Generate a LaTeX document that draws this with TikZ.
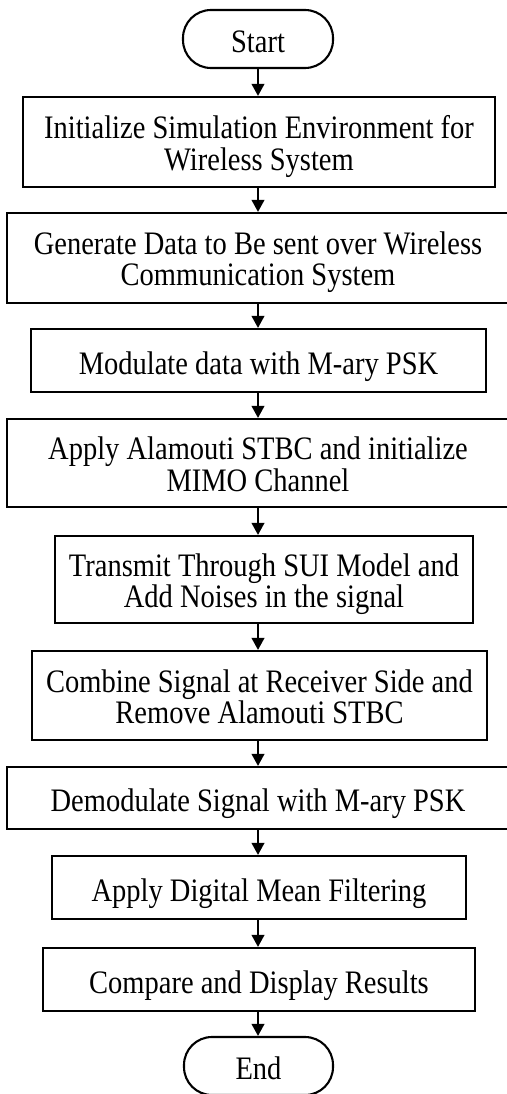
\documentclass[tikz,border=0pt]{standalone}
\usepackage{fontspec}
\usepackage{graphicx}
\setmainfont{Liberation Serif}
\usetikzlibrary{arrows.meta}
% Times-style lettering, drawn a little taller than wide; #1 lowers the first baseline
\newcommand\tallstack[2]{\raisebox{#1}[0pt][0pt]{\scalebox{1}[1.15]{\begin{tabular}[t]{@{}c@{}}#2\end{tabular}}}}
\newcommand\oneline[1]{\tallstack{-13.5pt}{#1}}
\newcommand\twolines[1]{\tallstack{3.4pt}{#1}}
\begin{document}
\begin{tikzpicture}[x=1pt,y=-1pt,
  font=\fontsize{28.5}{26.5}\selectfont,
  stepbox/.style={draw,line width=2.1pt,inner sep=0pt,align=center},
  termbox/.style={stepbox,rounded corners=28pt},
  flow/.style={line width=2.1pt,-{Triangle[length=12pt,width=12.5pt]}}]
\useasboundingbox (0,0) rectangle (506,1094);
\coordinate (axis) at (258,0);
\node[termbox,minimum width=150pt,minimum height=58pt] (start) at (258,39) {\oneline{Start}};
\node[stepbox,minimum width=472pt,minimum height=90pt] (b1) at (259,142) {\twolines{Initialize Simulation Environment for\\Wireless System}};
\node[stepbox,minimum width=502pt,minimum height=90pt] (b2) at (258,258) {\twolines{Generate Data to Be sent over Wireless\\Communication System}};
\node[stepbox,minimum width=455pt,minimum height=63pt] (b3) at (258.5,360.5) {\oneline{Modulate data with M-ary PSK}};
\node[stepbox,minimum width=502pt,minimum height=88pt] (b4) at (258,463) {\twolines{Apply Alamouti STBC and initialize\\MIMO Channel}};
\node[stepbox,minimum width=418pt,minimum height=87pt] (b5) at (264,579.5) {\twolines{Transmit Through SUI Model and\\Add Noises in the signal}};
\node[stepbox,minimum width=455pt,minimum height=89pt] (b6) at (259.5,695.5) {\twolines{Combine Signal at Receiver Side and\\Remove Alamouti STBC}};
\node[stepbox,minimum width=502pt,minimum height=62pt] (b7) at (258,798) {\oneline{Demodulate Signal with M-ary PSK}};
\node[stepbox,minimum width=414pt,minimum height=63pt] (b8) at (259,887.5) {\oneline{Apply Digital Mean Filtering}};
\node[stepbox,minimum width=432pt,minimum height=63pt] (b9) at (259,979.5) {\oneline{Compare and Display Results}};
\node[termbox,minimum width=149pt,minimum height=58pt] (end) at (258.5,1066) {\oneline{End}};
\foreach \a/\b in {start/b1,b1/b2,b2/b3,b3/b4,b4/b5,b5/b6,b6/b7,b7/b8,b8/b9,b9/end}
  \draw[flow] (\a.south -| axis) -- (\b.north -| axis);
\end{tikzpicture}
\end{document}
